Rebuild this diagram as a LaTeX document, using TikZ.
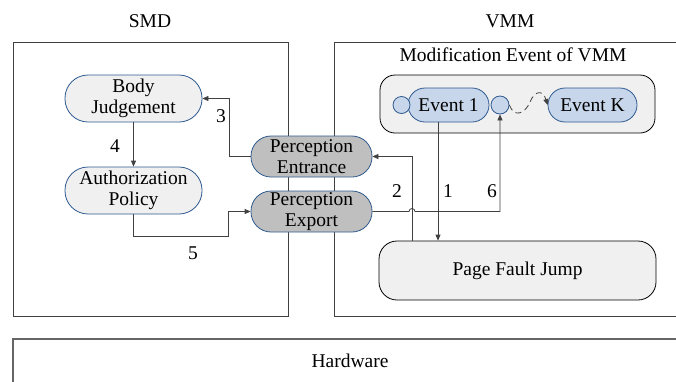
\documentclass[tikz,border=0pt]{standalone}
\usepackage{fontspec}
\setmainfont{Liberation Serif}
\usetikzlibrary{arrows.meta,calc}

\definecolor{edgeblue}{HTML}{2F5A8F}
\definecolor{lightfill}{HTML}{F0F0F0}
\definecolor{midgray}{HTML}{BFBFBF}
\definecolor{eventblue}{HTML}{C7D6EA}
\definecolor{linegray}{HTML}{404040}

\tikzset{
  every node/.style={font=\fontsize{19.5}{22}\selectfont, text=black},
  region/.style={draw=linegray, line width=1pt, fill=none},
  softnode/.style={draw=edgeblue, line width=0.8pt, fill=lightfill, rounded corners=#1,
    align=center, inner sep=0pt},
  gatenode/.style={draw=edgeblue, line width=0.8pt, fill=midgray, rounded corners=20pt,
    minimum width=121pt, minimum height=41pt, align=center, inner sep=0pt},
  eventnode/.style={draw=edgeblue, line width=0.8pt, fill=eventblue, rounded corners=17pt,
    minimum height=34pt, inner sep=0pt},
  portcircle/.style={circle, draw=edgeblue, line width=0.8pt, fill=eventblue, inner sep=0pt},
  groupbox/.style={draw=black, line width=0.8pt, fill=lightfill, rounded corners=#1, inner sep=0pt},
  arr/.style={draw=linegray, line width=0.8pt, -{Triangle[length=6pt,width=5pt]}},
  num/.style={inner sep=0pt}
}

\begin{document}
\begin{tikzpicture}[x=1pt,y=-1pt]
\clip (0,0) rectangle (676,381);

% outer regions
\draw[region] (13,42) rectangle (288,316);
\draw[region] (334,42) rectangle (690,316);
\draw[region, draw=black!60, line width=1.3pt] (13,339) rectangle (690,400);

\node (smd) at (150,21) {SMD};
\node (vmm) at (510,21) {VMM};
\node (modtitle) at (513,55) {Modification Event of VMM};
\node (hw) at (350,361) {Hardware};

% SMD internals
\node[softnode=23pt, minimum width=137pt, minimum height=47pt] (bj) at (133.5,98.5) {Body\\[-1pt]Judgement};
\node[softnode=23pt, minimum width=137pt, minimum height=47pt] (ap) at (133.5,190.5) {Authorization\\[-1pt]Policy};

% perception gates on the boundary
\node[gatenode] (pe) at (311.5,156.5) {Perception\\[-1pt]Entrance};
\node[gatenode] (px) at (311.5,211.5) {Perception\\[-1pt]Export};

% modification event group
\node[groupbox=15pt, minimum width=275pt, minimum height=58pt] (grp) at (517.5,104) {};
\node[eventnode, minimum width=81pt] (ev1) at (448.5,105) {Event 1};
\node[eventnode, minimum width=89pt] (evk) at (592.5,105) {Event K};
\node[portcircle, minimum size=17pt] (c1) at (401.5,105) {};
\node[portcircle, minimum size=18pt] (c2) at (500,105) {};

\node[groupbox=18pt, minimum width=277pt, minimum height=59pt] (pfj) at (517.5,270.5) {Page Fault Jump};

% dashed chain between events
\draw[linegray, line width=0.8pt, dashed, dash pattern=on 6pt off 4pt,
  -{Triangle[length=6pt,width=5pt]}]
  (c2.east) .. controls (514,118) and (525,114) .. (530,102)
  .. controls (535,90) and (543,90) .. (evk.west);

% connectors
\draw[arr] (bj) -- (ap);
\draw[arr] (pe.west) -- ++(-21,0) |- (bj.east);
\draw[arr] (ap.south) -- ++(0,22) -| ([xshift=-22pt]px.west) -- (px.west);
\draw[arr] ([xshift=-105.5pt]pfj.north) |- (pe.east);
\draw[arr] ([xshift=-10.5pt]ev1.south) -- ([xshift=-10.5pt]ev1.south |- pfj.north);
\draw[arr] (px.east) -- (409,211.5) arc (180:360:3) -- (c2.south |- px.east) -- (c2.south);

% step numbers
\node[num] (n3) at (221,116) {3};
\node[num] (n4) at (115,146) {4};
\node[num] (n5) at (193,253) {5};
\node[num] (n2) at (397,191) {2};
\node[num] (n1) at (448,191) {1};
\node[num] (n6) at (492,191) {6};
\end{tikzpicture}
\end{document}
